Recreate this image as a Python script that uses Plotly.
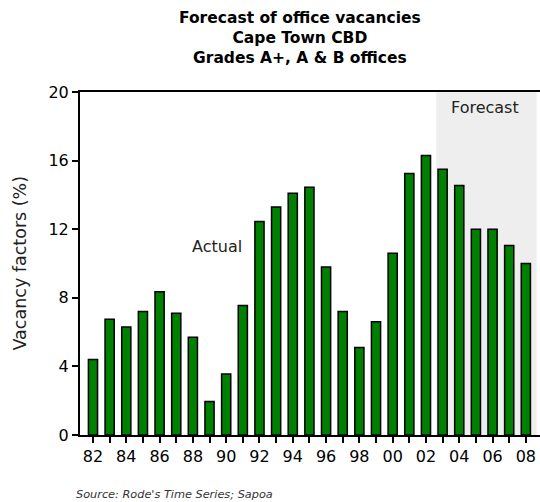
import plotly.graph_objects as go

# Office vacancy factors (%), Cape Town CBD, grades A+, A & B
years = ["82", "83", "84", "85", "86", "87", "88", "89", "90", "91", "92", "93", "94",
         "95", "96", "97", "98", "99", "00", "01", "02", "03", "04", "05", "06", "07", "08"]
vacancy = [4.4, 6.75, 6.3, 7.2, 8.35, 7.1, 5.7, 1.95, 3.55, 7.55, 12.45, 13.3, 14.1,
           14.45, 9.8, 7.2, 5.1, 6.6, 10.6, 15.25, 16.3, 15.5, 14.55, 12.0, 12.0, 11.05, 10.0]
tick_labels = [y if i % 2 == 0 else "" for i, y in enumerate(years)]
y_ticks = [0, 4, 8, 12, 16, 20]

W, H = 540, 502
L, R, T, B = 80, 0, 92, 67
font_main = "DejaVu Sans, Verdana, sans-serif"

fig = go.Figure()
fig.add_trace(go.Bar(
    x=years, y=vacancy, width=0.55,
    marker=dict(color="#008000", line=dict(color="black", width=1.5)),
    hoverinfo="x+y",
))

# shaded forecast period
fig.add_shape(type="rect", xref="x", yref="y", x0=20.62, x1=26.65, y0=0, y1=20,
              fillcolor="#eeeeee", line=dict(width=0), layer="below")

fig.update_layout(
    width=W, height=H,
    margin=dict(l=L, r=R, t=T, b=B),
    paper_bgcolor="white", plot_bgcolor="white",
    showlegend=False, bargap=0.45,
    font=dict(family=font_main, size=16, color="black"),
    xaxis=dict(
        type="category", range=[-0.78, 26.85],
        tickmode="array", tickvals=years, ticktext=tick_labels,
        ticks="outside", ticklen=6, tickwidth=2, tickcolor="black",
        showline=True, linecolor="black", linewidth=2, mirror=True,
        showgrid=False, zeroline=False,
        tickfont=dict(family=font_main, size=16, color="black"),
    ),
    yaxis=dict(
        range=[0, 20], tickmode="array", tickvals=y_ticks,
        ticks="outside", ticklen=6, tickwidth=2, tickcolor="black",
        showline=True, linecolor="black", linewidth=2,
        showgrid=False, zeroline=False,
        tickfont=dict(family=font_main, size=16, color="black"),
    ),
)

plot_w = W - L - R
annotations = [
    dict(text="<b>Forecast of office vacancies<br>Cape Town CBD<br>Grades A+, A &amp; B offices</b>",
         xref="paper", yref="paper", x=(300 - L) / plot_w, y=1 + (T - 38) / (H - T - B),
         xanchor="center", yanchor="middle", showarrow=False,
         font=dict(family=font_main, size=15.5, color="black")),
    dict(text="Vacancy factors (%)", textangle=-90,
         xref="paper", yref="paper", x=(19 - L) / plot_w, y=0.5,
         xanchor="center", yanchor="middle", showarrow=False,
         font=dict(family=font_main, size=17.5, color="#222222")),
    dict(text="Actual", xref="x", yref="y", x=7.45, y=11.0,
         xanchor="center", yanchor="middle", showarrow=False,
         font=dict(family=font_main, size=16, color="#222222")),
    dict(text="Forecast", xref="x", yref="y", x=23.55, y=19.1,
         xanchor="center", yanchor="middle", showarrow=False,
         font=dict(family=font_main, size=16, color="#222222")),
    dict(text="<i>Source: Rode's Time Series; Sapoa</i>",
         xref="paper", yref="paper", x=(74 - L) / plot_w, y=-(494 - (H - B)) / (H - T - B),
         xanchor="left", yanchor="middle", showarrow=False,
         font=dict(family=font_main, size=11.3, color="#333333")),
]
fig.update_layout(annotations=annotations)

fig.write_html("out.html")
